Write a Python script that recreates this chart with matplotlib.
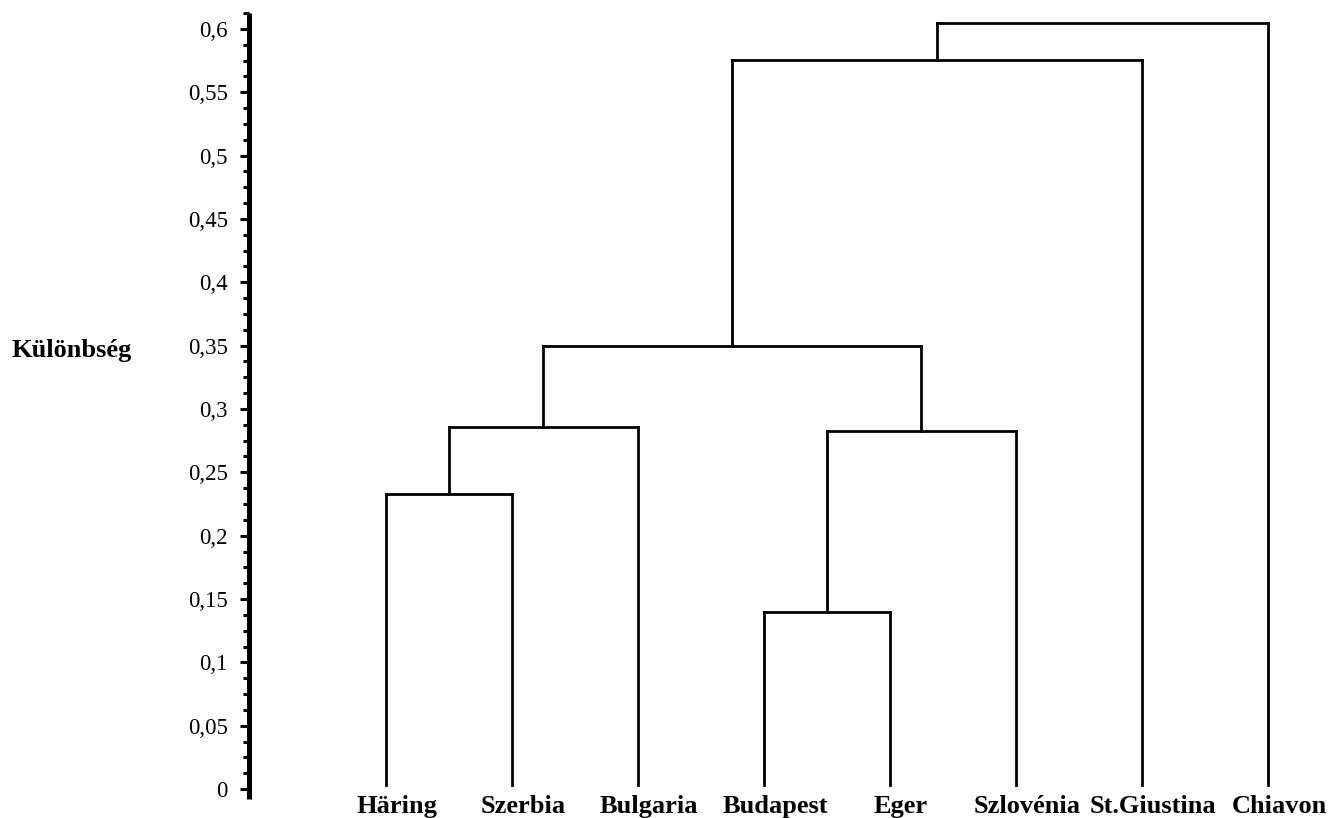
import matplotlib
matplotlib.use("Agg")
import matplotlib.pyplot as plt
import matplotlib.transforms as mtransforms
from matplotlib.ticker import MultipleLocator, FuncFormatter

# ---- data ----
leaf_labels = ["Häring", "Szerbia", "Bulgaria", "Budapest", "Eger",
               "Szlovénia", "St.Giustina", "Chiavon"]
# merges (scipy-like): leaves 0..7, new clusters numbered from 8 upward
merge_left = [0, 3, 8, 9, 10, 12, 13]
merge_right = [1, 4, 2, 5, 11, 6, 7]
merge_height = [0.233, 0.1397, 0.2858, 0.2826, 0.3497, 0.5755, 0.6047]
y_label = "Különbség"

plt.rcParams['font.family'] = ['Liberation Serif', 'DejaVu Serif']

W, H = 1341, 818
fig = plt.figure(figsize=(W / 100, H / 100), dpi=100)
ax_left = 249.5 / W
ax_bottom = (H - 799) / H
ax_top = (H - 13) / H
ax = fig.add_axes([ax_left, ax_bottom, 1 - ax_left, ax_top - ax_bottom])

n = len(leaf_labels)
xpos = {i: i + 1 for i in range(n)}
ypos = {i: 0.003 for i in range(n)}
lw = 2.0
for k, (a, b, h) in enumerate(zip(merge_left, merge_right, merge_height)):
    xa, xb = xpos[a], xpos[b]
    ax.plot([xa, xa], [ypos[a], h], color='black', lw=lw, solid_capstyle='projecting')
    ax.plot([xb, xb], [ypos[b], h], color='black', lw=lw, solid_capstyle='projecting')
    ax.plot([xa, xb], [h, h], color='black', lw=lw, solid_capstyle='projecting')
    new = n + k
    xpos[new] = (xa + xb) / 2
    ypos[new] = h

ax.set_xlim(1 - 136.5 / 126, n + 73 / 126)
ax.set_ylim(-10 / 1266.7, 0.6 + 16 / 1266.7)

for s in ['top', 'right', 'bottom']:
    ax.spines[s].set_visible(False)
ax.spines['left'].set_linewidth(3.6)
ax.spines['left'].set_capstyle('butt')

ax.yaxis.set_major_locator(MultipleLocator(0.05))
ax.yaxis.set_minor_locator(MultipleLocator(0.0125))
ax.yaxis.set_major_formatter(FuncFormatter(lambda v, p: ('%g' % round(v, 4)).replace('.', ',')))
ax.tick_params(axis='y', which='major', length=6.5, width=2.2, pad=9, labelsize=16.5)
ax.tick_params(axis='y', which='minor', length=4.3, width=2.2)
ax.set_xticks([])

offset = mtransforms.ScaledTranslation(11 / 100, 0, fig.dpi_scale_trans)
trans = mtransforms.blended_transform_factory(ax.transData, fig.transFigure) + offset
for i, lab in enumerate(leaf_labels):
    ax.text(i + 1, (H - 813) / H, lab, transform=trans, ha='center', va='baseline',
            fontsize=19, fontweight='bold')

fig.text(72 / W, (H - 357) / H, y_label, ha='center', va='baseline',
         fontsize=19, fontweight='bold')

fig.savefig("out.png", dpi=100)
